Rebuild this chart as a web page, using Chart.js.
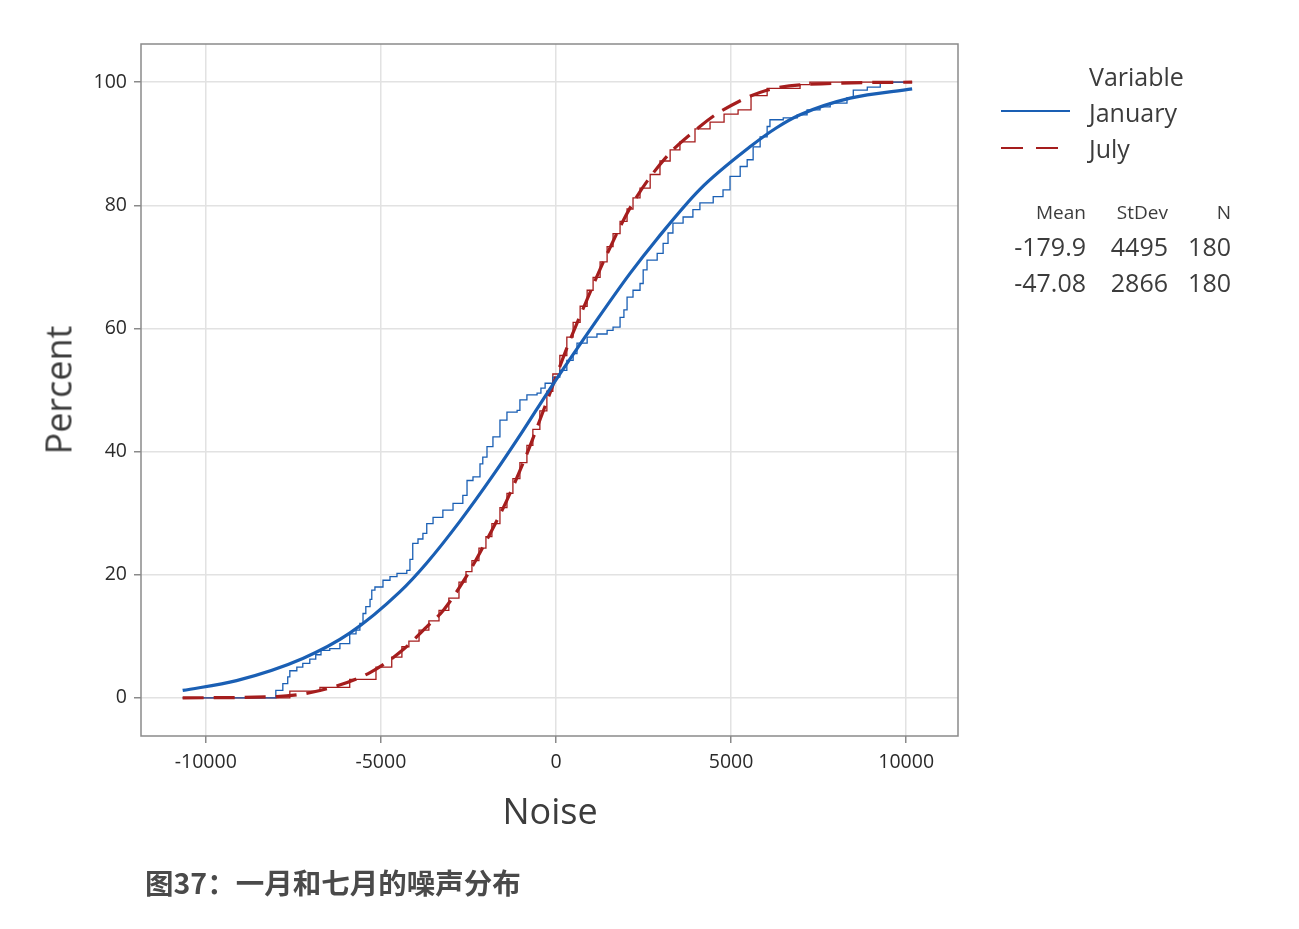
<!DOCTYPE html>
<html>
<head>
<meta charset="utf-8">
<script src="https://cdn.jsdelivr.net/npm/chart.js@4/dist/chart.umd.min.js"></script>
<style>
    body { margin: 0; background: #fff; }
    #wrap { position: relative; width: 1299px; height: 929px; overflow: hidden; font-family: "Open Sans", sans-serif; color: #3c3c3c; }
    #chart { position: absolute; left: 0; top: 0; }
    .txt { position: absolute; white-space: nowrap; }
    .r { text-align: right; }
</style>
</head>
<body>
<div id="wrap">
    <canvas id="chart" width="1299" height="929"></canvas>

    <div class="txt" style="left:58px;top:390px;font-size:36px;transform:translate(-50%,-50%) rotate(-90deg);">Percent</div>
    <div class="txt" style="left:550px;top:810px;font-size:36px;transform:translate(-50%,-50%);">Noise</div>

    <!-- legend -->
    <div class="txt" style="left:1089px;top:59px;font-size:25px;">Variable</div>
    <div style="position:absolute;left:1001px;top:110px;width:69px;border-top:2px solid #1a5fb4;"></div>
    <div class="txt" style="left:1089px;top:95px;font-size:25px;">January</div>
    <div style="position:absolute;left:1001px;top:147px;width:22px;border-top:2px solid #a51d1d;"></div>
    <div style="position:absolute;left:1036px;top:147px;width:22px;border-top:2px solid #a51d1d;"></div>
    <div class="txt" style="left:1089px;top:131px;font-size:25px;">July</div>

    <!-- stats -->
    <div class="txt r" style="right:213px;top:199px;font-size:19px;">Mean</div>
    <div class="txt r" style="right:131px;top:199px;font-size:19px;">StDev</div>
    <div class="txt r" style="right:68px;top:199px;font-size:19px;">N</div>
    <div class="txt r" style="right:213px;top:229px;font-size:25px;">-179.9</div>
    <div class="txt r" style="right:131px;top:229px;font-size:25px;">4495</div>
    <div class="txt r" style="right:68px;top:229px;font-size:25px;">180</div>
    <div class="txt r" style="right:213px;top:265px;font-size:25px;">-47.08</div>
    <div class="txt r" style="right:131px;top:265px;font-size:25px;">2866</div>
    <div class="txt r" style="right:68px;top:265px;font-size:25px;">180</div>

    <div class="txt" style="left:145px;top:861px;font-size:28.5px;font-weight:bold;color:#4a4a4a;font-family:'Noto Sans CJK SC',sans-serif;">图37：一月和七月的噪声分布</div>
</div>

<script>
// axis ticks
const xTicks = [-10000, -5000, 0, 5000, 10000];
const yTicks = [0, 20, 40, 60, 80, 100];

// fitted normal curves
const janFitX = [-10660, -9120, -7230, -5890, -4460, -3690, -2740, -1790, -940, -170, 1160, 2110, 2880, 4110, 5540, 6300, 6970, 8400, 10170];
const janFitY = [1.2, 2.8, 6.4, 10.5, 17.2, 21.9, 28.7, 36.2, 43.4, 50.2, 61.3, 68.9, 74.5, 82.6, 89.5, 92.6, 94.7, 97.4, 98.9];

const julFitX = [-10660, -7980, -6740, -5310, -4370, -3700, -3220, -2550, -1980, -1410, -840, -270, 310, 880, 1450, 2200, 3160, 4110, 4690, 6020, 7910, 10170];
const julFitY = [0.0, 0.2, 1.2, 4.1, 7.8, 11.5, 14.2, 19.8, 25.6, 32.0, 39.5, 48.0, 56.8, 64.6, 72.0, 80.4, 87.9, 92.8, 95.2, 98.7, 99.8, 100];

// empirical step curves
const janEcdfX = [-10660, -8090, -8000, -7800, -7660, -7600, -7400, -7230, -7030, -6860, -6710, -6460, -6170, -5890, -5710, -5600, -5510, -5430, -5310, -5260, -5170, -4940, -4740, -4540, -4260, -4170, -4090, -3940, -3800, -3690, -3510, -3230, -2940, -2660, -2540, -2370, -2170, -2090, -1970, -1800, -1600, -1400, -1110, -1030, -830, -540, -430, -310, -90, 110, 310, 490, 600, 890, 1170, 1460, 1630, 1830, 1940, 2030, 2200, 2400, 2490, 2600, 2890, 3060, 3200, 3340, 3630, 3910, 4110, 4490, 4770, 4970, 5260, 5460, 5630, 5830, 6030, 6110, 6490, 6890, 7170, 7540, 7830, 8310, 8490, 8890, 9260, 9340, 10170];
const janEcdfY = [0, 0, 1.2, 2.3, 3.4, 4.4, 5.0, 5.6, 6.3, 7.0, 7.7, 8.0, 8.8, 10.4, 11.0, 12.1, 13.7, 14.8, 16.0, 17.5, 18.0, 19.1, 19.7, 20.2, 20.7, 22.5, 25.1, 25.8, 26.7, 28.3, 29.3, 30.5, 31.6, 32.9, 35.3, 35.9, 38.0, 39.1, 40.8, 42.4, 45.1, 46.4, 46.7, 48.4, 49.2, 49.5, 50.3, 51.1, 52.1, 53.2, 54.8, 55.9, 57.6, 58.6, 59.1, 59.7, 60.2, 61.8, 63.0, 65.1, 66.2, 67.3, 69.5, 71.1, 72.2, 73.8, 75.5, 77.1, 78.1, 79.3, 80.4, 81.4, 82.5, 84.7, 86.3, 87.4, 89.5, 91.1, 92.8, 93.9, 94.2, 94.7, 95.5, 96.0, 96.6, 97.5, 98.7, 99.2, 99.8, 100, 100];

const julEcdfX = [-10660, -7600, -6740, -5890, -5140, -4690, -4400, -4200, -3910, -3630, -3340, -3060, -2770, -2570, -2400, -2200, -2000, -1830, -1600, -1400, -1230, -1030, -830, -660, -460, -260, -90, 110, 310, 490, 690, 890, 1060, 1260, 1460, 1630, 1830, 2030, 2200, 2400, 2690, 2970, 3260, 3540, 3970, 4400, 4800, 5200, 5570, 6030, 6970, 7250, 10170];
const julEcdfY = [0, 1.1, 1.7, 3.0, 5.0, 6.6, 8.3, 9.2, 11.0, 12.5, 14.2, 16.2, 18.8, 20.5, 22.3, 24.3, 26.2, 28.3, 30.9, 33.2, 35.6, 38.2, 41.0, 43.6, 46.6, 49.8, 52.6, 55.6, 58.6, 61.0, 63.6, 66.2, 68.3, 70.8, 73.3, 75.4, 77.4, 79.4, 81.2, 82.8, 85.0, 87.2, 89.0, 90.3, 92.4, 93.5, 94.8, 95.5, 97.8, 99.0, 99.6, 100, 100];

const BLUE = '#1a5fb4';
const RED = '#a51d1d';

function pts(xs, ys) {
    return xs.map((x, i) => ({ x: x, y: ys[i] }));
}

const framePlugin = {
    id: 'frame',
    afterDraw(chart) {
        const { ctx, chartArea: a } = chart;
        ctx.save();
        ctx.strokeStyle = '#8a8a8a';
        ctx.lineWidth = 1.5;
        ctx.strokeRect(a.left, a.top, a.right - a.left, a.bottom - a.top);
        ctx.restore();
    }
};

const tickFont = { family: 'Open Sans', size: 19.5 };

new Chart(document.getElementById('chart'), {
    type: 'line',
    data: {
        datasets: [
            { label: 'January fit', data: pts(janFitX, janFitY), borderColor: BLUE, borderWidth: 3.2, cubicInterpolationMode: 'monotone', pointRadius: 0, order: 1 },
            { label: 'July fit', data: pts(julFitX, julFitY), borderColor: RED, borderWidth: 3.2, borderDash: [21, 10], cubicInterpolationMode: 'monotone', pointRadius: 0, order: 2 },
            { label: 'January', data: pts(janEcdfX, janEcdfY), borderColor: BLUE, borderWidth: 1.3, stepped: true, pointRadius: 0, order: 3 },
            { label: 'July', data: pts(julEcdfX, julEcdfY), borderColor: RED, borderWidth: 1.3, stepped: true, pointRadius: 0, order: 4 }
        ]
    },
    options: {
        responsive: false,
        animation: false,
        devicePixelRatio: 1,
        layout: { padding: { left: 0, top: 44, right: 341, bottom: 83 } },
        plugins: { legend: { display: false }, tooltip: { enabled: false } },
        scales: {
            x: {
                type: 'linear',
                min: -11850,
                max: 11480,
                afterBuildTicks: s => { s.ticks = xTicks.map(v => ({ value: v })); },
                afterFit: s => { s.height = 110; },
                grid: { color: '#e2e2e2', lineWidth: 1.5, tickColor: '#8a8a8a', tickLength: 7 },
                border: { display: false },
                ticks: { color: '#2a2a2a', padding: 8, maxRotation: 0, font: tickFont, callback: v => String(v) }
            },
            y: {
                type: 'linear',
                min: -6.2,
                max: 106.2,
                afterBuildTicks: s => { s.ticks = yTicks.map(v => ({ value: v })); },
                afterFit: s => { s.width = 141; },
                grid: { color: '#e2e2e2', lineWidth: 1.5, tickColor: '#8a8a8a', tickLength: 7 },
                border: { display: false },
                ticks: { color: '#2a2a2a', padding: 7, font: tickFont, callback: v => String(v) }
            }
        }
    },
    plugins: [framePlugin]
});
</script>
</body>
</html>
